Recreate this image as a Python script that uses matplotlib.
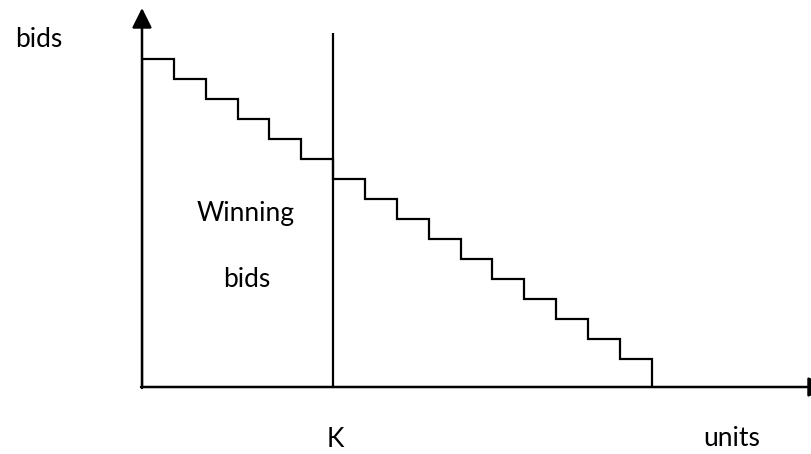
import matplotlib
matplotlib.use("Agg")
import matplotlib.pyplot as plt
import numpy as np

# Data
unit_edges = list(range(0, 17))  # 16 units
bids = [16.4, 15.4, 14.4, 13.4, 12.4, 11.4, 10.4, 9.4, 8.4, 7.4, 6.4, 5.4, 4.4, 3.4, 2.4, 1.4]
K = 6
labels = {"ylabel": "bids", "xlabel": "units", "k": "K", "win1": "Winning", "win2": "bids"}

W, H = 812, 454
fig = plt.figure(figsize=(W / 100, H / 100), dpi=100)
fig.patch.set_facecolor("white")

x0, y0 = 142, 387  # origin in pixels (from top)
px_per_x = 31.86
px_per_y = 20.0
ax = fig.add_axes([x0 / W, (H - y0) / H, (W - x0) / W, y0 / H])
ax.set_xlim(0, (W - x0) / px_per_x)
ax.set_ylim(0, y0 / px_per_y)
ax.axis("off")

def px_x(p):
    return (p - x0) / px_per_x

def px_y(p):
    return (y0 - p) / px_per_y

# step curve
ax.stairs(bids, unit_edges, baseline=0, color="black", lw=1.6, fill=False)

# K line
ax.plot([K, K], [0, px_y(33)], color="black", lw=1.6, solid_capstyle="butt")

# axes with arrows
arrow = dict(arrowstyle="-|>,head_length=0.4,head_width=0.2", color="black",
             lw=1.8, mutation_scale=30, shrinkA=0, shrinkB=0)
ax.annotate("", xy=(0, px_y(8)), xytext=(0, px_y(388)), arrowprops=arrow, annotation_clip=False)
ax.annotate("", xy=(px_x(828), 0), xytext=(px_x(141), 0), arrowprops=arrow, annotation_clip=False)

font = dict(family=["Lato", "DejaVu Sans"], fontsize=19, color="black")

def ftext(px, py, s):
    fig.text(px / W, 1 - py / H, s, ha="left", va="baseline", **font)

ftext(15, 47, labels["ylabel"])
ftext(197, 221, labels["win1"])
ftext(223, 287, labels["win2"])
ftext(327, 447, labels["k"])
ftext(703, 446, labels["xlabel"])

fig.savefig("out.png", dpi=100, facecolor="white")
